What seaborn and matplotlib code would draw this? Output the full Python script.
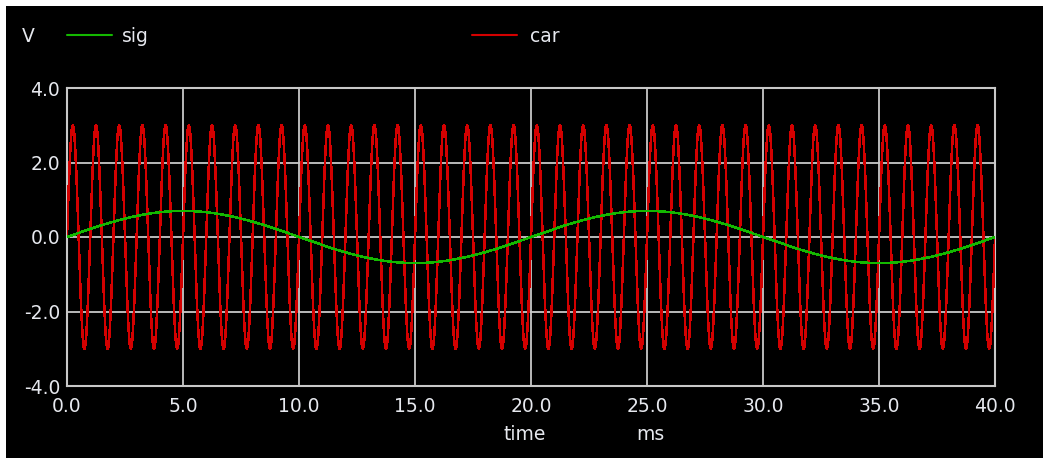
import numpy as np
import pandas as pd
import matplotlib
matplotlib.use("Agg")
import matplotlib.pyplot as plt
from matplotlib.patches import Rectangle
import seaborn as sns

# Waveform parameters (time in ms, amplitude in V)
t_start_ms = 0.0
t_stop_ms = 40.0
t_step_ms = 0.025
sig_amplitude = 0.7
sig_freq_khz = 0.05
car_amplitude = 3.0
car_freq_khz = 1.0

x_ticks = [0, 5, 10, 15, 20, 25, 30, 35, 40]
y_ticks = [-4, -2, 0, 2, 4]
series_names = ["sig", "car"]

time_ms = np.arange(t_start_ms, t_stop_ms + t_step_ms / 2, t_step_ms)
sig = sig_amplitude * np.sin(2 * np.pi * sig_freq_khz * time_ms)
car = car_amplitude * np.sin(2 * np.pi * car_freq_khz * time_ms)

df = pd.DataFrame({"time": np.concatenate([time_ms, time_ms]),
                   "V": np.concatenate([sig, car]),
                   "trace": [series_names[0]] * len(time_ms) + [series_names[1]] * len(time_ms)})

sns.set_theme(style="dark")
plt.rcParams["font.family"] = ["DejaVu Sans"]
txt = "#e6e8ee"
grid_c = "#c8c8c8"

fig = plt.figure(figsize=(10.43, 4.58), dpi=100, facecolor="black")
ax = fig.add_axes([67 / 1043, 1 - 386 / 458, (995 - 67) / 1043, (386 - 88) / 458])
ax.set_facecolor("black")

palette = {"sig": "#14b800", "car": "#d40000"}
sns.lineplot(data=df, x="time", y="V", hue="trace", palette=palette,
             hue_order=["car", "sig"], linewidth=1.1, ax=ax, legend=False,
             estimator=None, sort=False, zorder=3)
for ln in ax.get_lines():
    ln.set_antialiased(False)

ax.set_xlim(t_start_ms, t_stop_ms)
ax.set_ylim(-4, 4)
ax.set_xticks(x_ticks)
ax.set_xticklabels([f"{v:.1f}" for v in x_ticks])
ax.set_yticks(y_ticks)
ax.set_yticklabels([f"{v:.1f}" for v in y_ticks])
ax.grid(True, color=grid_c, linewidth=1.3, zorder=1)
ax.set_axisbelow(True)
for s in ax.spines.values():
    s.set_color(grid_c)
    s.set_linewidth(1.5)
ax.tick_params(axis="both", length=0, colors=txt, labelsize=13.5)
ax.tick_params(axis="x", pad=8)
ax.tick_params(axis="y", pad=5)
ax.set_xlabel("time", color=txt, fontsize=13.5)
ax.set_ylabel("")
ax.xaxis.set_label_coords((525 - 67) / (995 - 67), -0.13)

fig.text(650 / 1043, 1 - 435 / 458, "ms", color=txt, fontsize=13.5, ha="center", va="center")
fig.text(22 / 1043, 1 - 37 / 458, "V", color=txt, fontsize=13.5, ha="left", va="center")

# Legend entries drawn in figure coordinates
for name, x0, x1, xt in [("sig", 67, 112, 122), ("car", 472, 517, 530)]:
    fig.add_artist(plt.Line2D([x0 / 1043, x1 / 1043], [1 - 35 / 458] * 2,
                              color=palette[name], linewidth=1.5, transform=fig.transFigure))
    fig.text(xt / 1043, 1 - 37 / 458, name, color=txt, fontsize=13.5, ha="left", va="center")

# White margins along top and left edges
fig.add_artist(Rectangle((0, 1 - 6 / 458), 1, 6 / 458, transform=fig.transFigure,
                         facecolor="white", edgecolor="none"))
fig.add_artist(Rectangle((0, 0), 6 / 1043, 1, transform=fig.transFigure,
                         facecolor="white", edgecolor="none"))

fig.savefig("out.png", dpi=100, facecolor="black")
